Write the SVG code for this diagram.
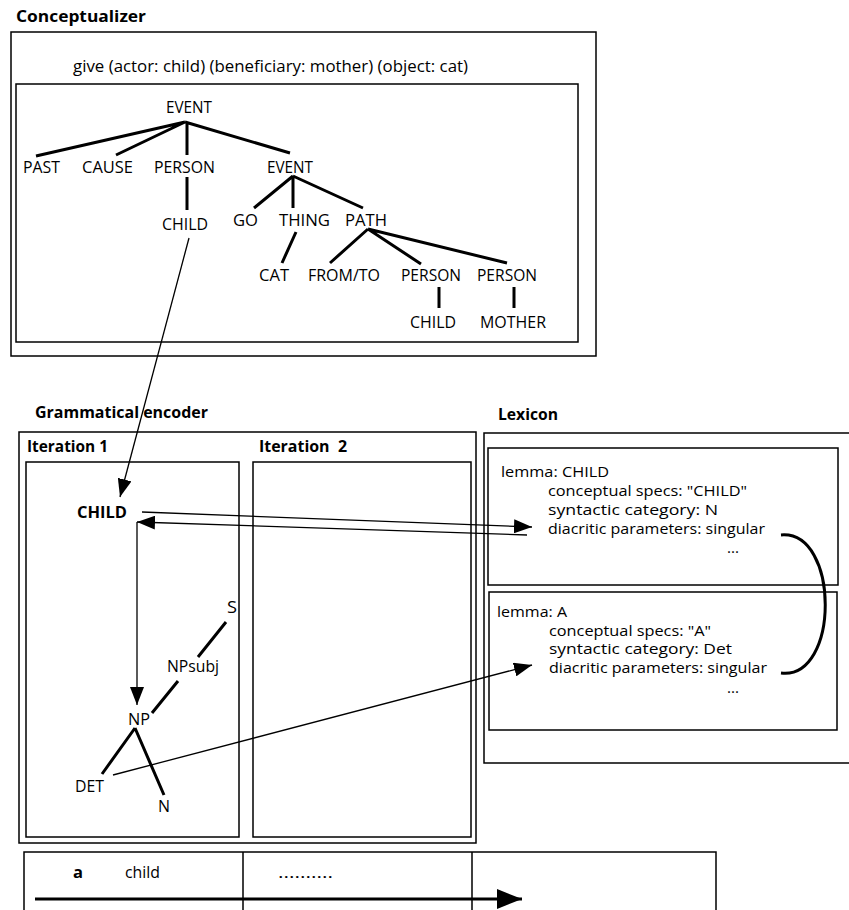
<svg xmlns="http://www.w3.org/2000/svg" width="849" height="910" viewBox="0 0 849 910">
<style>
text{font-family:"Open Sans","Liberation Sans",sans-serif;fill:#000}
.h{font-size:16px;font-weight:700}
.t{font-size:15.5px}
.l{font-size:14.5px}
.b{font-weight:700}
.box{fill:none;stroke:#000;stroke-width:1.5}
.tree{stroke:#000;stroke-width:3;fill:none;stroke-linecap:butt}
.conn{stroke:#000;stroke-width:1.3;fill:none}
</style>
<defs>
<marker id="ah" markerUnits="userSpaceOnUse" markerWidth="18" markerHeight="14" refX="18" refY="7" orient="auto"><path d="M0,0 L18,7 L0,14 z" fill="#000"/></marker>
<marker id="ahb" markerUnits="userSpaceOnUse" markerWidth="25" markerHeight="20" refX="25" refY="10" orient="auto"><path d="M0,0 L25,10 L0,20 z" fill="#000"/></marker>
</defs>
<rect width="849" height="910" fill="#fff"/>

<g id="conceptualizer">
<text class="h" x="16" y="22" textLength="130" lengthAdjust="spacingAndGlyphs">Conceptualizer</text>
<rect class="box" x="11" y="32" width="585" height="324"/>
<text class="t" x="73" y="72" textLength="395" lengthAdjust="spacingAndGlyphs">give (actor: child) (beneficiary: mother) (object: cat)</text>
<rect class="box" x="16" y="84" width="562" height="258"/>
<g id="concept-tree">
<text class="t" x="166" y="113" textLength="46" lengthAdjust="spacingAndGlyphs">EVENT</text>
<text class="t" x="23" y="173" textLength="37" lengthAdjust="spacingAndGlyphs">PAST</text>
<text class="t" x="82" y="173" textLength="51" lengthAdjust="spacingAndGlyphs">CAUSE</text>
<text class="t" x="154" y="173" textLength="61" lengthAdjust="spacingAndGlyphs">PERSON</text>
<text class="t" x="267" y="173" textLength="46" lengthAdjust="spacingAndGlyphs">EVENT</text>
<text class="t" x="162" y="230" textLength="46" lengthAdjust="spacingAndGlyphs">CHILD</text>
<text class="t" x="233" y="226" textLength="25" lengthAdjust="spacingAndGlyphs">GO</text>
<text class="t" x="279" y="226" textLength="51" lengthAdjust="spacingAndGlyphs">THING</text>
<text class="t" x="345" y="226" textLength="42" lengthAdjust="spacingAndGlyphs">PATH</text>
<text class="t" x="259" y="281" textLength="30" lengthAdjust="spacingAndGlyphs">CAT</text>
<text class="t" x="308" y="281" textLength="72" lengthAdjust="spacingAndGlyphs">FROM/TO</text>
<text class="t" x="401" y="281" textLength="60" lengthAdjust="spacingAndGlyphs">PERSON</text>
<text class="t" x="477" y="281" textLength="60" lengthAdjust="spacingAndGlyphs">PERSON</text>
<text class="t" x="410" y="328" textLength="46" lengthAdjust="spacingAndGlyphs">CHILD</text>
<text class="t" x="480" y="328" textLength="66" lengthAdjust="spacingAndGlyphs">MOTHER</text>
<path class="tree" d="M185,122 L36,156 M185,122 L116,155 M187,122 L187,155 M185,122 L290,153 M293,176 L254,208 M293,176 L293,208 M293,176 L363,208 M187,177 L187,210 M296,232 L282,263 M368,229 L330,263 M368,229 L421,264 M368,229 L507,263 M439,287 L439,308 M514,287 L514,308"/>
</g>
</g>

<g id="grammatical-encoder">
<text class="h" x="35" y="418" textLength="173" lengthAdjust="spacingAndGlyphs">Grammatical encoder</text>
<rect class="box" x="19" y="432" width="457" height="411"/>
<text class="h" x="27" y="452" textLength="81" lengthAdjust="spacingAndGlyphs">Iteration 1</text>
<text class="h" x="259" y="452" textLength="88" lengthAdjust="spacingAndGlyphs" style="white-space:pre">Iteration  2</text>
<rect id="iteration1" class="box" x="26" y="462" width="213" height="375"/>
<rect id="iteration2" class="box" x="253" y="462" width="218" height="375"/>
<g id="enc-tree">
<text class="t b" x="77" y="518" textLength="50" lengthAdjust="spacingAndGlyphs">CHILD</text>
<text class="t" x="227" y="613" textLength="10" lengthAdjust="spacingAndGlyphs">S</text>
<text class="t" x="167" y="672" textLength="52" lengthAdjust="spacingAndGlyphs">NPsubj</text>
<text class="t" x="128" y="725" textLength="22" lengthAdjust="spacingAndGlyphs">NP</text>
<text class="t" x="75" y="792" textLength="29" lengthAdjust="spacingAndGlyphs">DET</text>
<text class="t" x="158" y="812" textLength="12" lengthAdjust="spacingAndGlyphs">N</text>
<path class="tree" d="M226,622 L198,657 M178,681 L152,713 M135,728 L102,774 M135,728 L164,795"/>
</g>
</g>

<g id="lexicon">
<text class="h" x="498" y="420" textLength="60" lengthAdjust="spacingAndGlyphs">Lexicon</text>
<path class="box" d="M860,433 L484,433 L484,763 L860,763"/>
<g id="lemma-child">
<rect class="box" x="488" y="448" width="350" height="137"/>
<text class="l" x="501" y="477" textLength="108" lengthAdjust="spacingAndGlyphs">lemma: CHILD</text>
<text class="l" x="548" y="496" textLength="199" lengthAdjust="spacingAndGlyphs">conceptual specs: "CHILD"</text>
<text class="l" x="548" y="515" textLength="170" lengthAdjust="spacingAndGlyphs">syntactic category: N</text>
<text class="l" x="548" y="534" textLength="217" lengthAdjust="spacingAndGlyphs">diacritic parameters: singular</text>
<text class="l" x="727" y="553" textLength="12" lengthAdjust="spacingAndGlyphs">...</text>
</g>
<g id="lemma-a">
<rect class="box" x="489" y="592" width="348" height="138"/>
<text class="l" x="497" y="617" textLength="70" lengthAdjust="spacingAndGlyphs">lemma: A</text>
<text class="l" x="549" y="636" textLength="162" lengthAdjust="spacingAndGlyphs">conceptual specs: "A"</text>
<text class="l" x="549" y="654" textLength="183" lengthAdjust="spacingAndGlyphs">syntactic category: Det</text>
<text class="l" x="549" y="673" textLength="218" lengthAdjust="spacingAndGlyphs">diacritic parameters: singular</text>
<text class="l" x="727" y="693" textLength="12" lengthAdjust="spacingAndGlyphs">...</text>
</g>
</g>

<g id="output">
<path class="box" d="M24,912 L24,852 L716,852 L716,912 M243,852 L243,912 M472,852 L472,912"/>
<text class="t b" x="73" y="878" textLength="10" lengthAdjust="spacingAndGlyphs">a</text>
<text class="t" x="125" y="878" textLength="35" lengthAdjust="spacingAndGlyphs">child</text>
<text class="t" x="278" y="878" textLength="55" lengthAdjust="spacingAndGlyphs">..........</text>
</g>

<g id="connectors">
<line class="conn" x1="189" y1="238" x2="120" y2="497" marker-end="url(#ah)"/>
<line class="conn" x1="142" y1="512" x2="532" y2="527" marker-end="url(#ah)"/>
<line class="conn" x1="527" y1="535" x2="137" y2="522" marker-end="url(#ah)"/>
<line class="conn" x1="137" y1="522" x2="137" y2="705" marker-end="url(#ah)"/>
<line class="conn" x1="113" y1="775" x2="532" y2="665" marker-end="url(#ah)"/>
<path class="tree" stroke-width="2.5" d="M781,535 C840,530 840,680 781,673"/>
<line class="tree" x1="35" y1="899" x2="522" y2="899" marker-end="url(#ahb)"/>
</g>
</svg>
